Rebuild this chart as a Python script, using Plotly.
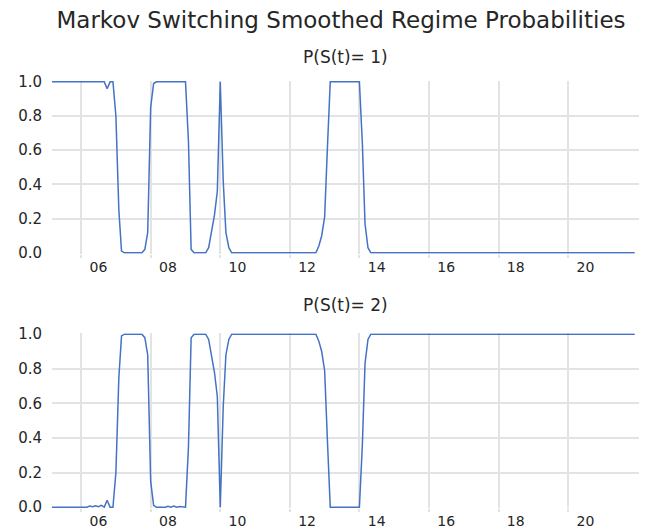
import plotly.graph_objects as go

# ---------------- data ----------------
chart_title = "Markov Switching Smoothed Regime Probabilities"
panel_titles = ["P(S(t)= 1)", "P(S(t)= 2)"]

# Smoothed probability of regime 1 (vertices of the plotted monthly line)
p1_dates = [
    "2005-03-01", "2006-09-01", "2006-10-01", "2006-11-01", "2006-12-01",
    "2007-01-01", "2007-02-01", "2007-03-01", "2007-04-01", "2007-10-01",
    "2007-11-01", "2007-12-01", "2008-01-01", "2008-02-01", "2008-03-01",
    "2009-01-01", "2009-02-01", "2009-03-01", "2009-04-01", "2009-08-01",
    "2009-09-01", "2009-10-01", "2009-11-01", "2009-12-01", "2010-01-01",
    "2010-02-01", "2010-03-01", "2010-04-01", "2010-05-01", "2012-10-01",
    "2012-11-01", "2012-12-01", "2013-01-01", "2013-02-01", "2013-03-01",
    "2014-01-01", "2014-02-01", "2014-03-01", "2014-04-01", "2014-05-01",
    "2021-12-01",
]
p1_values = [
    1.0, 1.0, 0.96, 1.0, 1.0,
    0.80, 0.25, 0.01, 0.0, 0.0,
    0.02, 0.12, 0.85, 0.99, 1.0,
    1.0, 0.65, 0.02, 0.0, 0.0,
    0.03, 0.12, 0.22, 0.36, 1.0,
    0.42, 0.12, 0.03, 0.0, 0.0,
    0.04, 0.10, 0.21, 0.64, 1.0,
    1.0, 0.64, 0.17, 0.03, 0.0,
    0.0,
]

# Smoothed probability of regime 2
p2_dates = [
    "2005-03-01", "2006-03-01", "2006-04-01", "2006-05-01", "2006-06-01",
    "2006-07-01", "2006-08-01", "2006-09-01", "2006-10-01", "2006-11-01",
    "2006-12-01", "2007-01-01", "2007-02-01", "2007-03-01", "2007-04-01",
    "2007-10-01", "2007-11-01", "2007-12-01", "2008-01-01", "2008-02-01",
    "2008-03-01", "2008-06-01", "2008-07-01", "2008-08-01", "2008-09-01",
    "2008-10-01", "2008-11-01", "2009-01-01", "2009-02-01", "2009-03-01",
    "2009-04-01", "2009-08-01", "2009-09-01", "2009-10-01", "2009-11-01",
    "2009-12-01", "2010-01-01", "2010-02-01", "2010-03-01", "2010-04-01",
    "2010-05-01", "2012-10-01", "2012-11-01", "2012-12-01", "2013-01-01",
    "2013-02-01", "2013-03-01", "2014-01-01", "2014-02-01", "2014-03-01",
    "2014-04-01", "2014-05-01", "2021-12-01",
]
p2_values = [
    0.0, 0.0, 0.006, 0.002, 0.008,
    0.003, 0.01, 0.0, 0.04, 0.0,
    0.0, 0.20, 0.75, 0.99, 1.0,
    1.0, 0.98, 0.88, 0.15, 0.01,
    0.0, 0.0, 0.005, 0.0, 0.006,
    0.0, 0.003, 0.0, 0.35, 0.98,
    1.0, 1.0, 0.97, 0.88, 0.78,
    0.64, 0.0, 0.58, 0.88, 0.97,
    1.0, 1.0, 0.96, 0.90, 0.79,
    0.36, 0.0, 0.0, 0.36, 0.83,
    0.97, 1.0, 1.0,
]

grid_years = [2006, 2008, 2010, 2012, 2014, 2016, 2018, 2020]
year_labels = ["06", "08", "10", "12", "14", "16", "18", "20"]
y_ticks = [0.0, 0.2, 0.4, 0.6, 0.8, 1.0]

# ---------------- style ----------------
# The page body keeps the browser's default 8px margin, so the figure is
# drawn 8px smaller than the window and offset accordingly.
FIG_W, FIG_H = 646, 521
line_color = "#4472C4"
grid_color = "#e3e3e3"
text_color = "#262626"
y_tick_font = dict(family="DejaVu Sans", size=15, color=text_color)
x_tick_font = dict(family="DejaVu Sans", size=14, color=text_color)

fig = go.Figure()
fig.add_trace(go.Scatter(x=p1_dates, y=p1_values, mode="lines",
                         line=dict(color=line_color, width=1.5),
                         xaxis="x", yaxis="y", showlegend=False))
fig.add_trace(go.Scatter(x=p2_dates, y=p2_values, mode="lines",
                         line=dict(color=line_color, width=1.5),
                         xaxis="x2", yaxis="y2", showlegend=False))

x_range = ["2005-03-01", "2022-01-15"]
label_pos = [f"{y}-07-01" for y in grid_years]
grid_pos = [f"{y}-01-01" for y in grid_years]

xaxis_common = dict(
    type="date", range=x_range, automargin=False,
    tickmode="array", tickvals=label_pos, ticktext=year_labels,
    showgrid=False, zeroline=False, showline=False, ticks="",
    tickfont=x_tick_font, ticklabelstandoff=3,
    minor=dict(tickmode="array", tickvals=grid_pos, showgrid=True,
               gridcolor=grid_color, gridwidth=1.5,
               ticks="outside", ticklen=3, tickcolor=grid_color, tickwidth=1.5),
)
yaxis_common = dict(
    range=[-0.005, 1.005], tickmode="array", tickvals=y_ticks, automargin=False,
    tickformat=".1f", showgrid=True, gridcolor=grid_color, gridwidth=1.5,
    zeroline=False, showline=False, ticks="", tickfont=y_tick_font,
    ticklabelstandoff=9,
)

fig.update_layout(
    width=FIG_W, height=FIG_H,
    margin=dict(l=44, r=15, t=73, b=21),
    paper_bgcolor="white", plot_bgcolor="white",
    title=dict(text=chart_title, x=333 / FIG_W, xanchor="center",
               y=1 - 4 / FIG_H, yanchor="top", yref="container", automargin=False,
               pad=dict(t=0, b=0),
               font=dict(family="DejaVu Sans", size=23, color=text_color)),
    xaxis=dict(xaxis_common, anchor="y"),
    xaxis2=dict(xaxis_common, anchor="y2"),
    yaxis=dict(yaxis_common, domain=[0.5956, 1.0], anchor="x"),
    yaxis2=dict(yaxis_common, domain=[0.0, 0.409], anchor="x2"),
    annotations=[
        dict(text=panel_titles[0], x=0.5, y=1.057, xref="paper", yref="paper",
             xanchor="center", yanchor="middle", showarrow=False,
             font=dict(family="DejaVu Sans", size=17, color=text_color)),
        dict(text=panel_titles[1], x=0.5, y=0.4754, xref="paper", yref="paper",
             xanchor="center", yanchor="middle", showarrow=False,
             font=dict(family="DejaVu Sans", size=17, color=text_color)),
    ],
)

fig.write_html("out.html")
